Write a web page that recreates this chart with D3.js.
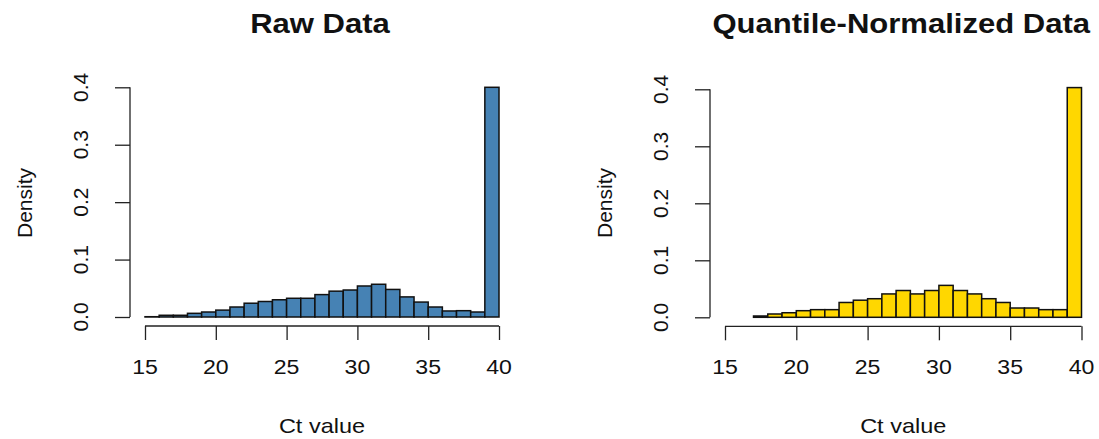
<!DOCTYPE html>
<html>
<head>
<meta charset="utf-8">
<script src="https://cdn.jsdelivr.net/npm/d3@7"></script>
<style>
  body { margin: 0; background: white; }
  svg { display: block; }
  text { font-family: "Liberation Sans", Arial, sans-serif; fill: #111; }
</style>
</head>
<body>
<svg id="chart" width="1099" height="439"></svg>
<script>
// histogram bins are 1 Ct unit wide; value = density of the bin starting at that Ct
var rawBinStart = [15,16,17,18,19,20,21,22,23,24,25,26,27,28,29,30,31,32,33,34,35,36,37,38,39];
var rawDensity  = [0.0005,0.003,0.003,0.0064,0.0087,0.012,0.0174,0.024,0.027,0.030,0.0326,0.0326,0.039,
                   0.045,0.047,0.054,0.057,0.048,0.035,0.026,0.0174,0.0105,0.011,0.0087,0.400];

var qnBinStart = [17,18,19,20,21,22,23,24,25,26,27,28,29,30,31,32,33,34,35,36,37,38,39];
var qnDensity  = [0.0023,0.0058,0.008,0.0116,0.0134,0.0134,0.026,0.030,0.0326,0.041,0.047,0.041,
                  0.047,0.056,0.047,0.041,0.0326,0.026,0.0163,0.0163,0.0134,0.0134,0.403];

var xTicks = [15,20,25,30,35,40];
var yTicks = [0.0,0.1,0.2,0.3,0.4];

var svg = d3.select("#chart");

function drawPanel(opt) {
    var xScale = d3.scaleLinear().domain([15, 40]).range(opt.xRange);
    var yScale = d3.scaleLinear().domain([0, 0.4]).range(opt.yRange);
    var g = svg.append("g");

    var bins = opt.starts.map((s, i) => ({x0: s, x1: s + 1, value: opt.values[i]}));

    g.selectAll("rect.bar")
        .data(bins)
        .join("rect")
        .attr("class", "bar")
        .attr("x", d => xScale(d.x0))
        .attr("width", d => xScale(d.x1) - xScale(d.x0))
        .attr("y", d => yScale(d.value))
        .attr("height", d => yScale(0) - yScale(d.value))
        .attr("fill", opt.color)
        .attr("stroke", "#111")
        .attr("stroke-width", 1.5);

    // x axis (R style: line only over tick range, labels below)
    var xAxisY = opt.yRange[0] + 9;
    var xAxis = g.append("g")
        .attr("transform", "translate(0," + xAxisY + ")")
        .call(d3.axisBottom(xScale).tickValues(xTicks).tickSize(14).tickSizeOuter(0).tickFormat(d3.format("d")));
    xAxis.select(".domain").attr("d", "M" + xScale(15) + ",0H" + xScale(40)).attr("stroke", "#222").attr("stroke-width", 1.3);
    xAxis.selectAll(".tick line").attr("stroke", "#222").attr("stroke-width", 1.3);
    xAxis.selectAll(".tick text").remove();
    g.selectAll("text.xlab")
        .data(xTicks)
        .join("text")
        .attr("class", "xlab")
        .attr("text-anchor", "middle")
        .attr("transform", d => "translate(" + xScale(d) + ",374) scale(1.1,1)")
        .style("font-size", "21px")
        .text(d => d);

    // y axis
    var yAxisX = opt.xRange[0] - 15;
    var yAxis = g.append("g")
        .attr("transform", "translate(" + yAxisX + ",0)")
        .call(d3.axisLeft(yScale).tickValues(yTicks).tickSize(15).tickSizeOuter(0));
    yAxis.select(".domain").attr("d", "M0," + yScale(0) + "V" + yScale(0.4)).attr("stroke", "#222").attr("stroke-width", 1.3);
    yAxis.selectAll(".tick line").attr("stroke", "#222").attr("stroke-width", 1.3);
    yAxis.selectAll(".tick text").remove();
    g.selectAll("text.ylab")
        .data(yTicks)
        .join("text")
        .attr("class", "ylab")
        .attr("text-anchor", "middle")
        .attr("transform", d => "translate(" + (yAxisX - 42) + "," + yScale(d) + ") rotate(-90)")
        .style("font-size", "21px")
        .text(d => d3.format(".1f")(d));

    var cx = (opt.xRange[0] + opt.xRange[1]) / 2;

    g.append("text")
        .attr("text-anchor", "middle")
        .attr("transform", "translate(" + (cx - 2) + ",33) scale(1.15,1)")
        .style("font-size", "27px")
        .style("font-weight", "bold")
        .text(opt.title);

    g.append("text")
        .attr("text-anchor", "middle")
        .attr("transform", "translate(" + cx + ",433) scale(1.12,1)")
        .style("font-size", "21px")
        .text("Ct value");

    g.append("text")
        .attr("text-anchor", "middle")
        .attr("transform", "translate(" + (yAxisX - 98) + ",203) rotate(-90)")
        .style("font-size", "21px")
        .text("Density");
}

drawPanel({title: "Raw Data", starts: rawBinStart, values: rawDensity, color: "#4682B4",
           xRange: [145, 499], yRange: [317, 87.3]});
drawPanel({title: "Quantile-Normalized Data", starts: qnBinStart, values: qnDensity, color: "#FFD700",
           xRange: [725, 1081.5], yRange: [317.3, 89.3]});
</script>
</body>
</html>
